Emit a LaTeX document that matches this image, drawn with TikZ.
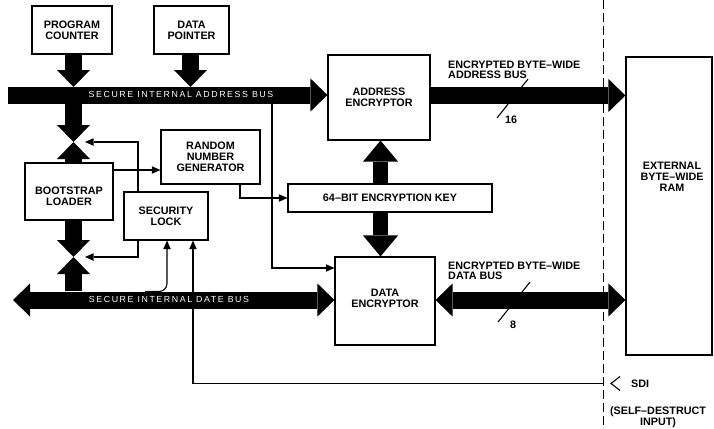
\documentclass[tikz,border=0pt]{standalone}
\usepackage{fontspec}
\setmainfont{Liberation Sans}
\newfontfamily\busfont[LetterSpace=18]{Liberation Sans}
\usetikzlibrary{arrows.meta}
\tikzset{
  BigTip/.tip={Triangle[length=17pt,width=33pt,line width=0pt]},
  KeyTip/.tip={Triangle[length=21pt,width=35pt,line width=0pt]},
  SmTip/.tip={Triangle[length=8.5pt,width=7.5pt,line width=0pt]},
  box/.style={draw, line width=1.1pt, inner sep=0pt, align=center,
    font=\fontsize{10.8}{11}\selectfont\bfseries},
  lbl/.style={inner sep=0pt, align=center, font=\fontsize{10.8}{11}\selectfont\bfseries},
  llbl/.style={inner sep=0pt, align=left, font=\fontsize{10.8}{10}\selectfont\bfseries},
  buslbl/.style={inner sep=0pt, text=white, font=\busfont\fontsize{8.8}{9}\selectfont},
  bus/.style={line width=17pt, black},
  sig/.style={line width=1.1pt, -SmTip},
  wire/.style={line width=1.1pt},
}
\begin{document}
\begin{tikzpicture}[x=1pt,y=-1pt]
\useasboundingbox (0,0) rectangle (714,428);

% boxes
\node[box, minimum width=80pt, minimum height=48pt] (pc) at (72,30) {PROGRAM\\COUNTER};
\node[box, minimum width=75pt, minimum height=48pt] (dp) at (191.5,30) {DATA\\POINTER};
\node[box, minimum width=102pt, minimum height=85pt] (ae) at (379,97.5) {ADDRESS\\ENCRYPTOR};
\node[box, minimum width=100pt, minimum height=88pt] (de) at (385,301) {};
\node[lbl] (detext) at (385,298) {DATA\\ENCRYPTOR};
\node[box, minimum width=204pt, minimum height=28pt] (kb) at (390,198) {64–BIT ENCRYPTION KEY};
\node[box, minimum width=99pt, minimum height=54pt] (rng) at (210.5,157) {RANDOM\\NUMBER\\GENERATOR};
\node[box, minimum width=88pt, minimum height=57pt] (bl) at (69,191.5) {};
\node[lbl] (bltext) at (69,196) {BOOTSTRAP\\LOADER};
\node[box, minimum width=84pt, minimum height=48pt] (sl) at (166,216) {SECURITY\\LOCK};
\node[box, minimum width=86pt, minimum height=298pt] (ram) at (669,206) {};
\node[lbl] (ramtext) at (672,177) {EXTERNAL\\BYTE–WIDE\\RAM};

% coordinates
\coordinate (abL) at (8,95);
\coordinate (dbL) at (13,300);
\coordinate (v1) at (73.5,142);
\coordinate (v2) at (73.5,257);
\coordinate (v1c) at (85,142);
\coordinate (v2c) at (85,257);
\coordinate (abT) at (73.5,87);
\coordinate (abB) at (73.5,103);
\coordinate (dbT) at (73.5,291);
\coordinate (dpT) at (190.5,87);
\coordinate (tap) at (272,95);
\coordinate (dbtap) at (145,291.5);
\coordinate (sdiL) at (603,383.5);
\coordinate (dtop) at (603,0);
\coordinate (dbot) at (603,426);

% dashed boundary
\draw[line width=1pt, dash pattern=on 9pt off 4pt] (dtop) -- (dbot);

% thin signal lines
\draw[sig] (bl.east |- 0,170) -- (rng.west |- 0,170);
\draw[sig] (sl.north -| 138,0) |- (v1c);
\draw[sig] (sl.south -| 138,0) |- (v2c);
\draw[sig, rounded corners=8pt] (dbtap) -| (sl.south -| 167,0);
\draw[sig] (sdiL) -| (sl.south -| 193,0);
\draw[sig] (tap) |- (de.west |- 0,268);
\draw[sig] (rng.south -| 240,0) |- (kb.west);

% bus width slashes
\coordinate (s1a) at (497,118);
\coordinate (s1b) at (528,79);
\coordinate (s2a) at (498,322);
\coordinate (s2b) at (530,282);
\draw[wire] (s1a) -- (s1b);
\draw[wire] (s2a) -- (s2b);

% buses
\draw[bus, -BigTip] (abL) -- (ae.west |- abL);
\draw[bus, BigTip-BigTip] (dbL) -- (de.west |- dbL);
\draw[bus, -BigTip] (ae.east |- 0,95.5) -- (ram.west |- 0,95.5);
\draw[bus, BigTip-BigTip] (de.east |- 0,300) -- (ram.west |- 0,300);
\draw[bus, -BigTip] (pc.south -| abT) -- (abT);
\draw[bus, -BigTip] (dp.south -| dpT) -- (dpT);
\draw[bus, -BigTip] (abB) -- (v1);
\draw[bus, -BigTip] (bl.north -| v1) -- (v1);
\draw[bus, -BigTip] (bl.south -| v2) -- (v2);
\draw[bus, -BigTip] (dbT) -- (v2);
\draw[line width=15pt, -KeyTip] (kb.north -| 380.5,0) -- (ae.south -| 380.5,0);
\draw[line width=15pt, -KeyTip] (kb.south -| 380.5,0) -- (de.north -| 380.5,0);

% bus labels
\node[buslbl] (abtext) at (181,94.5) {SECURE INTERNAL ADDRESS BUS};
\node[buslbl] (dbtext) at (169,299.5) {SECURE INTERNAL DATE BUS};

% external bus labels
\node[llbl, anchor=north west] (eab) at (448,61) {ENCRYPTED BYTE–WIDE\\ADDRESS BUS};
\node[llbl, anchor=north west] (edb) at (448,262) {ENCRYPTED BYTE–WIDE\\DATA BUS};
\node[lbl] (n16) at (511,120) {16};
\node[lbl] (n8) at (513,325) {8};

% SDI
\coordinate (sdipin) at (611,383.5);
\draw[wire] (620,376.5) -- (sdipin) -- (620,390.5);
\node[lbl, anchor=west] (sdi) at (631,383.5) {SDI};
\node[lbl] (sdiexp) at (658,417.5) {(SELF–DESTRUCT\\INPUT)};
\end{tikzpicture}
\end{document}
